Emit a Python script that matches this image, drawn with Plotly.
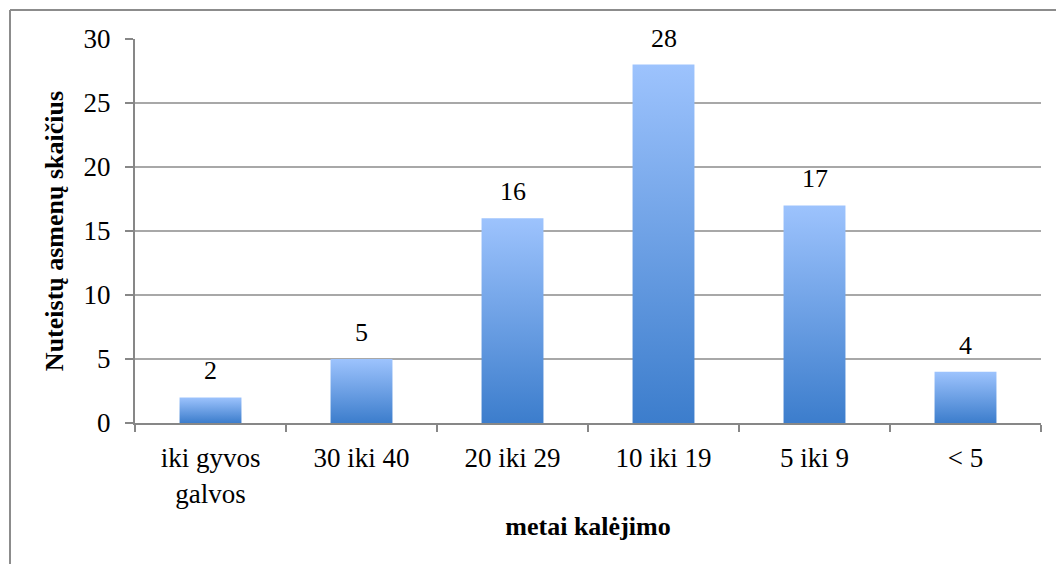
import plotly.graph_objects as go

categories = ["iki gyvos<br>galvos", "30 iki 40", "20 iki 29", "10 iki 19", "5 iki 9", "< 5"]
values = [2, 5, 16, 28, 17, 4]
y_ticks = [0, 5, 10, 15, 20, 25, 30]

x_title = "metai kalėjimo"
y_title = "Nuteistų asmenų skaičius"

BAR_W = 0.41
DARK = "#3c7dcc"
LIGHT = "#9dc3fd"
GRID = "#a8a8a8"
AXIS = "#878787"
FONT = "Liberation Serif, Times New Roman, serif"

W, H = 1056, 564
ML, MR, MT, MB = 135, 15, 39, 141

fig = go.Figure()

for i, v in enumerate(values):
    x0, x1 = i - BAR_W / 2, i + BAR_W / 2
    fig.add_trace(go.Scatter(
        x=[x0, x1, x1, x0, x0],
        y=[0, 0, v, v, 0],
        mode="lines",
        fill="toself",
        line=dict(width=0, color=DARK),
        fillgradient=dict(type="vertical", colorscale=[[0, DARK], [1, LIGHT]]),
        hoverinfo="skip",
        showlegend=False,
    ))
    fig.add_annotation(
        x=i, y=v, text=str(v), showarrow=False,
        yanchor="bottom", yshift=10,
        font=dict(family=FONT, size=26, color="#000000"),
    )

n = len(categories)
fig.update_xaxes(
    range=[-0.5, n - 0.5],
    tickmode="array",
    tickvals=list(range(n)),
    ticktext=categories,
    ticks="",
    showgrid=False,
    zeroline=False,
    showline=True,
    linecolor=AXIS,
    linewidth=2,
    tickfont=dict(family=FONT, size=27, color="#000000"),
    ticklabelstandoff=10,
    minor=dict(tickmode="array", tickvals=[k - 0.5 for k in range(n + 1)],
               ticks="outside", ticklen=7, tickcolor=AXIS, tickwidth=2, showgrid=False),
    title=dict(text="<b>" + x_title + "</b>", font=dict(family=FONT, size=26, color="#000000"),
               standoff=9),
    fixedrange=True,
)
fig.update_yaxes(
    range=[0, 30],
    tickmode="array",
    tickvals=y_ticks,
    ticks="outside",
    ticklen=8,
    tickcolor=AXIS,
    tickwidth=2,
    showgrid=True,
    gridcolor=GRID,
    gridwidth=2,
    zeroline=False,
    showline=True,
    linecolor=AXIS,
    linewidth=2,
    tickfont=dict(family=FONT, size=27, color="#000000"),
    ticklabelstandoff=9,
    title=dict(text="<b>" + y_title + "</b>", font=dict(family=FONT, size=26, color="#000000"),
               standoff=12),
    fixedrange=True,
)

pw = W - ML - MR
ph = H - MT - MB
def px_x(p):
    return (p - ML) / pw
def px_y(p):
    return (H - MB - p) / ph

border = dict(color="#8c8c8c", width=2)
fig.add_shape(type="line", xref="paper", yref="paper",
              x0=px_x(10), x1=px_x(W + 5), y0=px_y(10), y1=px_y(10), line=border)
fig.add_shape(type="line", xref="paper", yref="paper",
              x0=px_x(10), x1=px_x(10), y0=px_y(10), y1=px_y(H + 5), line=border)

fig.update_layout(
    width=W, height=H,
    margin=dict(l=ML, r=MR, t=MT, b=MB),
    paper_bgcolor="#ffffff",
    plot_bgcolor="#ffffff",
    showlegend=False,
)

fig.write_html("out.html")
